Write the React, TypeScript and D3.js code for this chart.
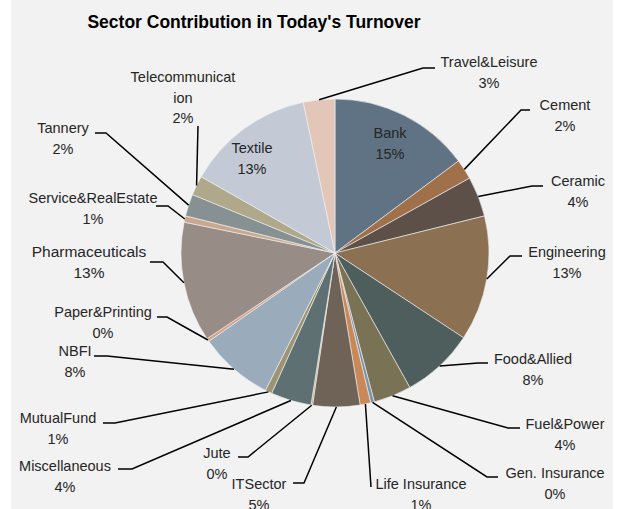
import * as d3 from 'd3';

const sectors = [
  'Bank', 'Cement', 'Ceramic', 'Engineering', 'Food&Allied', 'Fuel&Power',
  'Gen. Insurance', 'Life Insurance', 'ITSector', 'Jute', 'Miscellaneous',
  'MutualFund', 'NBFI', 'Paper&Printing', 'Pharmaceuticals',
  'Service&RealEstate', 'Tannery', 'Telecommunication', 'Textile', 'Travel&Leisure',
];

const shares = [
  14.81, 2.11, 4.21, 13.15, 7.64, 3.97,
  0.39, 1.11, 4.94, 0.17, 4.25,
  0.72, 7.81, 0.33, 12.6,
  0.67, 2.31, 2.06, 13.45, 3.3,
];

const sliceColors = [
  '#5f7384', '#a0704a', '#5d5049', '#8b7152', '#4e5e5d', '#7a7254',
  '#7b93ab', '#c88957', '#6f6256', '#b9a58c', '#5e7072',
  '#9d9474', '#9aabbb', '#d3a387', '#988c87',
  '#c9a890', '#879092', '#b0a88b', '#c3cad5', '#e2c6b8',
];

// where each label sits and how its leader line bends (layout only)
type Callout = { label: [number, number]; elbow?: [number, number]; tail?: [number, number]; size?: number; lines?: string[] };
const callouts: Record<string, Callout> = {
  'Bank': { label: [390, 133] },
  'Cement': { label: [565, 105], elbow: [521, 110], tail: [530, 110] },
  'Ceramic': { label: [578, 181], elbow: [532, 186], tail: [543, 186] },
  'Engineering': { label: [567, 252], elbow: [510, 256], tail: [522, 256] },
  'Food&Allied': { label: [533, 359], elbow: [478, 363], tail: [488, 363] },
  'Fuel&Power': { label: [565, 424], elbow: [508, 428], tail: [520, 428] },
  'Gen. Insurance': { label: [555, 473], elbow: [487, 477], tail: [498, 477] },
  'Life Insurance': { label: [421, 484], elbow: [371, 487], tail: [371, 487] },
  'ITSector': { label: [259, 484], elbow: [304, 483], tail: [293, 483] },
  'Jute': { label: [217, 453], elbow: [248, 457], tail: [238, 457] },
  'Miscellaneous': { label: [65, 466], elbow: [132, 469], tail: [118, 469] },
  'MutualFund': { label: [58, 418], elbow: [115, 423], tail: [103, 423] },
  'NBFI': { label: [75, 351], elbow: [107, 356], tail: [94, 356] },
  'Paper&Printing': { label: [103, 312], elbow: [167, 317], tail: [157, 317] },
  'Pharmaceuticals': { label: [89, 252], elbow: [163, 262], tail: [150, 262], size: 15.5 },
  'Service&RealEstate': { label: [93, 198], elbow: [168, 206], tail: [156, 206] },
  'Tannery': { label: [63, 128], elbow: [106, 133], tail: [95, 133] },
  'Telecommunication': { label: [183, 77], elbow: [198, 126], tail: [198, 126], lines: ['Telecommunicat', 'ion'] },
  'Textile': { label: [252, 148] },
  'Travel&Leisure': { label: [489, 62], elbow: [423, 68], tail: [435, 68] },
};

const W = 619;
const H = 509;
const cx = 335;
const cy = 253;
const radius = 154;
const lineGap = 20.5;

export default function App() {
  const items = sectors.map((name, i) => ({ name, value: shares[i], color: sliceColors[i] }));
  const total = d3.sum(shares);
  const pct = d3.format('.0%');

  const pie = d3.pie<{ name: string; value: number; color: string }>()
    .sort(null)
    .value((d) => d.value);
  const arcs = pie(items);

  const arc = d3.arc<d3.PieArcDatum<{ name: string; value: number; color: string }>>()
    .innerRadius(0)
    .outerRadius(radius);
  const edge = d3.arc<d3.PieArcDatum<{ name: string; value: number; color: string }>>()
    .innerRadius(radius)
    .outerRadius(radius);

  const font = '"Liberation Sans", Arial, sans-serif';

  return (
    <svg width={W} height={H} style={{ position: 'absolute', left: 0, top: 0 }} fontFamily={font}>
      <rect x={0} y={0} width={W} height={H} fill="#ffffff" />
      <rect x={11} y={0} width={602} height={H} fill="#f2f2f2" />
      <text x={254} y={22} textAnchor="middle" dy="0.35em" fontSize={17.5} fontWeight="bold" fill="#000">
        Sector Contribution in Today's Turnover
      </text>
      <g transform={`translate(${cx},${cy})`}>
        {arcs.map((a) => (
          <path key={a.data.name} d={arc(a) ?? ''} fill={a.data.color} stroke="#f2f2f2" strokeWidth={0.6} />
        ))}
      </g>
      {arcs.map((a) => {
        const c = callouts[a.data.name];
        if (!c.elbow || !c.tail) return null;
        const [sx, sy] = edge.centroid(a);
        const pts: [number, number][] = [[sx + cx, sy + cy], c.elbow, c.tail];
        return (
          <path key={`l-${a.data.name}`} d={d3.line()(pts) ?? ''} fill="none" stroke="#000" strokeWidth={1.5} />
        );
      })}
      {arcs.map((a) => {
        const c = callouts[a.data.name];
        const lines = [...(c.lines ?? [a.data.name]), pct(a.data.value / total)];
        return (
          <text key={`t-${a.data.name}`} textAnchor="middle" fontSize={c.size ?? 14.5} fill="#262626">
            {lines.map((s, k) => (
              <tspan key={k} x={c.label[0]} y={c.label[1] + k * lineGap} dy="0.35em">{s}</tspan>
            ))}
          </text>
        );
      })}
    </svg>
  );
}
